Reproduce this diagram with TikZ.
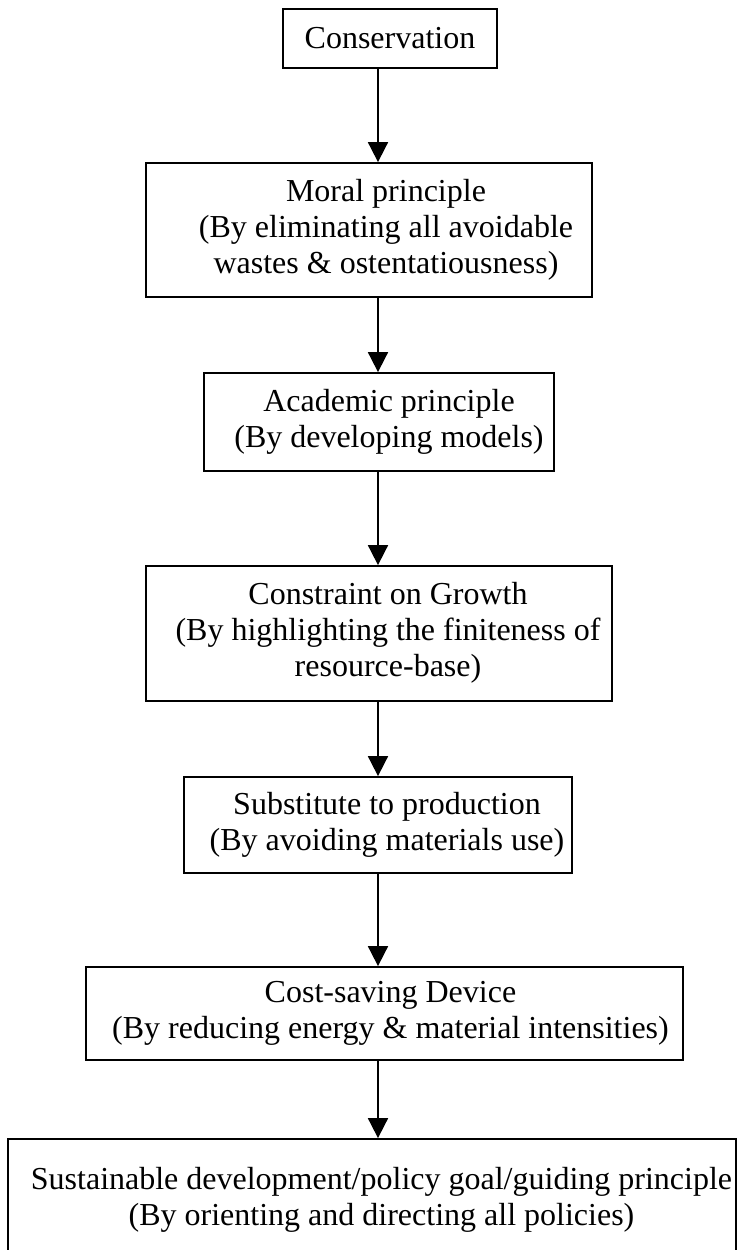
\documentclass[tikz,border=0pt]{standalone}
\usepackage{fontspec}
\setmainfont{Liberation Serif}
\usepackage{tikz}
\usetikzlibrary{arrows.meta}
\tikzset{
  stage/.style={draw,line width=0.9pt,inner sep=0pt,font=\fontsize{16}{18}\selectfont},
  flow/.style={line width=0.9pt,-{Triangle[length=10pt,width=10pt]}}
}
\newcommand{\stagetext}[2]{\hspace*{#1}\begin{tabular}{@{}c@{}}#2\end{tabular}}

\begin{document}
\begin{tikzpicture}[x=0.5pt,y=-0.5pt]
  \useasboundingbox (0,0) rectangle (740,1250);
  \clip (0,0) rectangle (740,1250);
  \coordinate (spine) at (378,0);
  \node[stage,minimum width=107pt,minimum height=29.5pt] (cons) at (390,38.5) {Conservation};
  \node[stage,minimum width=223pt,minimum height=67pt] (moral) at (369,230)
    {\stagetext{17pt}{Moral principle\\(By eliminating all avoidable\\wastes \& ostentatiousness)}};
  \node[stage,minimum width=175pt,minimum height=49pt] (acad) at (379,422)
    {\stagetext{10pt}{Academic principle\\(By developing models)}};
  \node[stage,minimum width=233pt,minimum height=67.5pt] (growth) at (379,633.5)
    {\stagetext{9pt}{Constraint on Growth\\(By highlighting the finiteness of\\resource-base)}};
  \node[stage,minimum width=194pt,minimum height=48pt] (subst) at (378,825)
    {\stagetext{9pt}{Substitute to production\\(By avoiding materials use)}};
  \node[stage,minimum width=298.5pt,minimum height=46.5pt] (cost) at (384.5,1013.5)
    {\stagetext{6pt}{Cost-saving Device\\(By reducing energy \& material intensities)}};
  % bottom edge runs off the page
  \node[stage,minimum width=364pt,minimum height=61.5pt] (goal) at (372,1200.5)
    {\stagetext{9.5pt}{Sustainable development/policy goal/guiding principle\\(By orienting and directing all policies)}};
  \draw[flow] (cons.south -| spine) -- (moral.north -| spine);
  \draw[flow] (moral.south -| spine) -- (acad.north -| spine);
  \draw[flow] (acad.south -| spine) -- (growth.north -| spine);
  \draw[flow] (growth.south -| spine) -- (subst.north -| spine);
  \draw[flow] (subst.south -| spine) -- (cost.north -| spine);
  \draw[flow] (cost.south -| spine) -- (goal.north -| spine);
\end{tikzpicture}
\end{document}
